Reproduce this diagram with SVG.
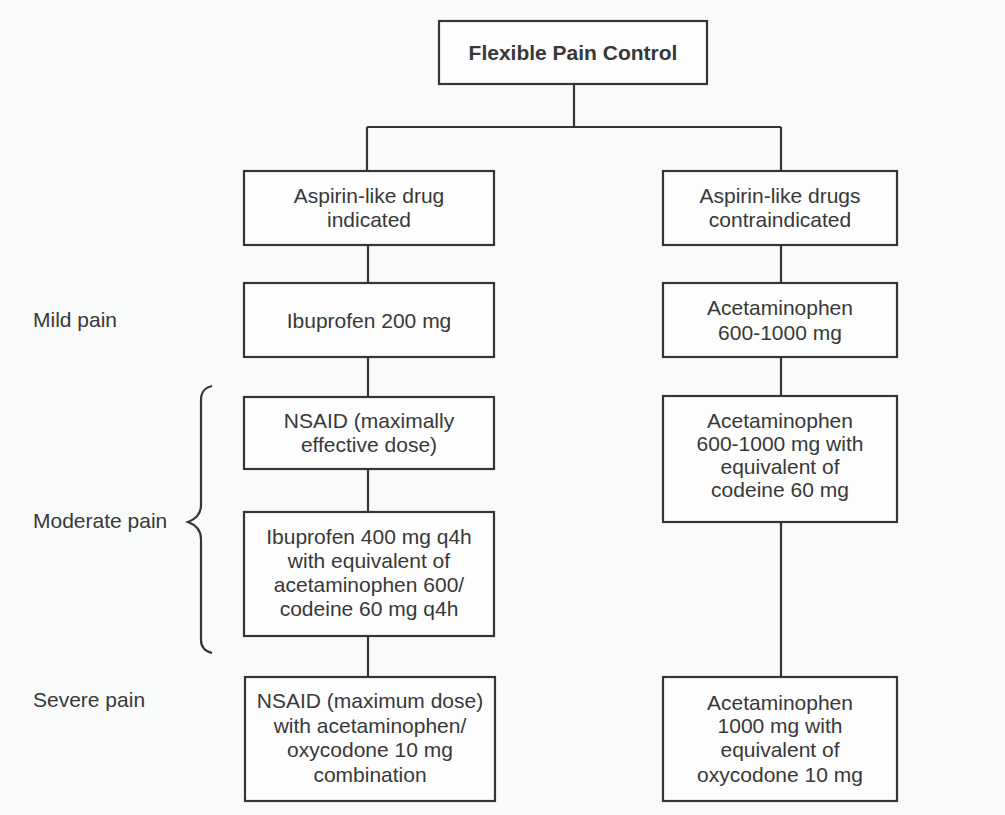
<svg xmlns="http://www.w3.org/2000/svg" width="1005" height="815" viewBox="0 0 1005 815">
<style>
.box{fill:#fdfdfd;stroke:#353535;stroke-width:2.2}
.t{font-family:"Liberation Sans",Arial,sans-serif;font-size:21px;fill:#383838;text-anchor:middle}
.l{font-family:"Liberation Sans",Arial,sans-serif;font-size:21px;fill:#383838}
.b{font-weight:bold}
.c{fill:none;stroke:#353535;stroke-width:2.2}
</style>
<rect width="1005" height="815" fill="#f9fafa"/>
<g id="connectors">
<path class="c" d="M574 84V127M367 127H781M367 127V171M781 127V171M368 245V283M368 357V397M368 469V512M368 636V677M781 245V283M781 357V396M781 522V677"/>
</g>
<g id="brace">
<path class="c" d="M212 386C204 388 201 392 201 400V505C201 514 196 519 188 522C196 525 201 530 201 539V640C201 647 204 651 212 653"/>
</g>
<g id="labels">
<text class="l" x="33" y="327">Mild pain</text>
<text class="l" x="33" y="528">Moderate pain</text>
<text class="l" x="33" y="707">Severe pain</text>
</g>
<g id="n-root">
<rect class="box" x="439" y="21" width="268" height="63"/>
<text class="t b" x="573" y="60">Flexible Pain Control</text>
</g>
<g id="n-indicated">
<rect class="box" x="244" y="171" width="250" height="74"/>
<text class="t" x="369" y="203">Aspirin-like drug</text>
<text class="t" x="369" y="227">indicated</text>
</g>
<g id="n-contra">
<rect class="box" x="663" y="171" width="234" height="74"/>
<text class="t" x="780" y="203">Aspirin-like drugs</text>
<text class="t" x="780" y="227">contraindicated</text>
</g>
<g id="n-ibu200">
<rect class="box" x="244" y="283" width="250" height="74"/>
<text class="t" x="369" y="328">Ibuprofen 200 mg</text>
</g>
<g id="n-acet">
<rect class="box" x="663" y="283" width="234" height="74"/>
<text class="t" x="780" y="315">Acetaminophen</text>
<text class="t" x="780" y="340">600-1000 mg</text>
</g>
<g id="n-nsaid">
<rect class="box" x="244" y="397" width="250" height="72"/>
<text class="t" x="369" y="428">NSAID (maximally</text>
<text class="t" x="369" y="452">effective dose)</text>
</g>
<g id="n-ibu400">
<rect class="box" x="244" y="512" width="250" height="124"/>
<text class="t" x="369" y="544">Ibuprofen 400 mg q4h</text>
<text class="t" x="369" y="568">with equivalent of</text>
<text class="t" x="369" y="592">acetaminophen 600/</text>
<text class="t" x="369" y="616">codeine 60 mg q4h</text>
</g>
<g id="n-acetcod">
<rect class="box" x="663" y="396" width="234" height="126"/>
<text class="t" x="780" y="428">Acetaminophen</text>
<text class="t" x="780" y="451">600-1000 mg with</text>
<text class="t" x="780" y="474">equivalent of</text>
<text class="t" x="780" y="497">codeine 60 mg</text>
</g>
<g id="n-nsaidmax">
<rect class="box" x="245" y="677" width="250" height="124"/>
<text class="t" x="370" y="708">NSAID (maximum dose)</text>
<text class="t" x="370" y="733">with acetaminophen/</text>
<text class="t" x="370" y="757">oxycodone 10 mg</text>
<text class="t" x="370" y="782">combination</text>
</g>
<g id="n-acetoxy">
<rect class="box" x="663" y="677" width="234" height="124"/>
<text class="t" x="780" y="710">Acetaminophen</text>
<text class="t" x="780" y="733">1000 mg with</text>
<text class="t" x="780" y="757">equivalent of</text>
<text class="t" x="780" y="782">oxycodone 10 mg</text>
</g>
</svg>
